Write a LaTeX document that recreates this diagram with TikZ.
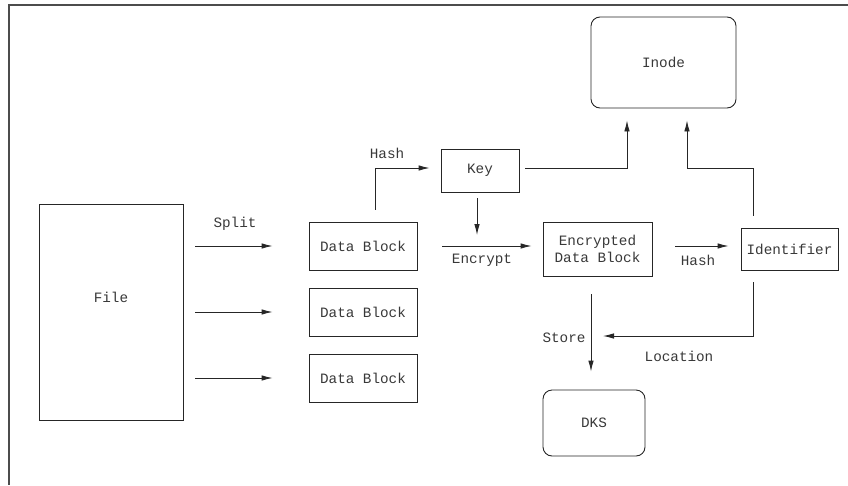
\documentclass[tikz,border=0pt]{standalone}
\usepackage{fontspec}
\setmonofont{Liberation Mono}
\usetikzlibrary{arrows.meta,calc}
\begin{document}
\begin{tikzpicture}[x=1pt,y=-1pt,
  line width=0.9pt,
  every node/.style={font=\ttfamily\fontsize{14.3}{17}\selectfont, text=black!78},
  box/.style={draw=black!85, inner sep=0pt, align=center},
  rbox/.style={box, rounded corners=9pt},
  conn/.style={draw=black!85, -{Latex[length=11pt,width=5.5pt]}},
  lbl/.style={inner sep=0pt}
]
\useasboundingbox (0,0) rectangle (848,485);
% frame
\draw[black!70, line width=1.2pt] (848,5) -- (9,5) -- (9,485);

% nodes
\node[rbox, minimum width=145pt, minimum height=91pt] (inode) at (663.5,62.5) {Inode};
\node[box, minimum width=78pt, minimum height=43pt] (key) at (480,170.5) {Key};
\node[box, minimum width=144pt, minimum height=216pt] (file) at (111,312) {};
\node[lbl] (filetxt) at ([yshift=15pt]file.center) {File};
\node[box, minimum width=108pt, minimum height=48pt] (db1) at (363,246) {Data Block};
\node[box, minimum width=108pt, minimum height=48pt] (db2) at (363,312) {Data Block};
\node[box, minimum width=108pt, minimum height=48pt] (db3) at (363,378) {Data Block};
\node[box, minimum width=109pt, minimum height=54pt] (edb) at (597.5,249) {Encrypted\\Data Block};
\node[box, minimum width=97pt, minimum height=42pt] (ident) at (789.5,249) {Identifier};
\node[rbox, minimum width=102pt, minimum height=66pt] (dks) at (594,423) {DKS};

% split arrows
\draw[conn, shorten <=12pt, shorten >=36pt] (file.east |- db1.west) -- (db1.west);
\draw[conn, shorten <=12pt, shorten >=36pt] (file.east |- db2.west) -- (db2.west);
\draw[conn, shorten <=12pt, shorten >=36pt] (file.east |- db3.west) -- (db3.west);
\node[lbl] (split) at (235,224) {Split};

% hash to key
\draw[conn] ([xshift=12pt,yshift=12pt]db1.north) |- ([xshift=-11pt,yshift=2.5pt]key.west);
\node[lbl] (hash1) at (387,153) {Hash};

% key to inode
\draw[conn] ([xshift=6pt,yshift=2.5pt]key.east) -| ([xshift=-36.5pt,yshift=-12pt]inode.south);

% key down
\coordinate (encpt) at (477,235);
\draw[conn] ([xshift=-3pt,yshift=-6pt]key.south) -- (encpt);

% encrypt
\draw[conn, shorten <=25pt, shorten >=11pt] (db1.east) -- (db1.east -| edb.west);
\node[lbl] (encrypt) at (482,260) {Encrypt};

% hash to identifier
\draw[conn, shorten <=23pt, shorten >=12pt] ([yshift=3pt]edb.east) -- ([yshift=3pt]ident.west);
\node[lbl] (hash2) at (698,260) {Hash};

% identifier to inode
\coordinate (idbend) at (687,168);
\draw[conn] ([xshift=-36.5pt,yshift=12pt]ident.north) |- (idbend) -- ([xshift=23.5pt,yshift=-12pt]inode.south);

% location
\coordinate (locend) at (603,336);
\draw[conn] ([xshift=-36.5pt,yshift=-12pt]ident.south) |- (locend);
\node[lbl] (location) at (679,356) {Location};

% store
\draw[conn, shorten <=18pt, shorten >=18pt] ([xshift=-6.5pt]edb.south) -- ([xshift=-3pt]dks.north);
\node[lbl] (store) at (564,338) {Store};
\end{tikzpicture}
\end{document}
